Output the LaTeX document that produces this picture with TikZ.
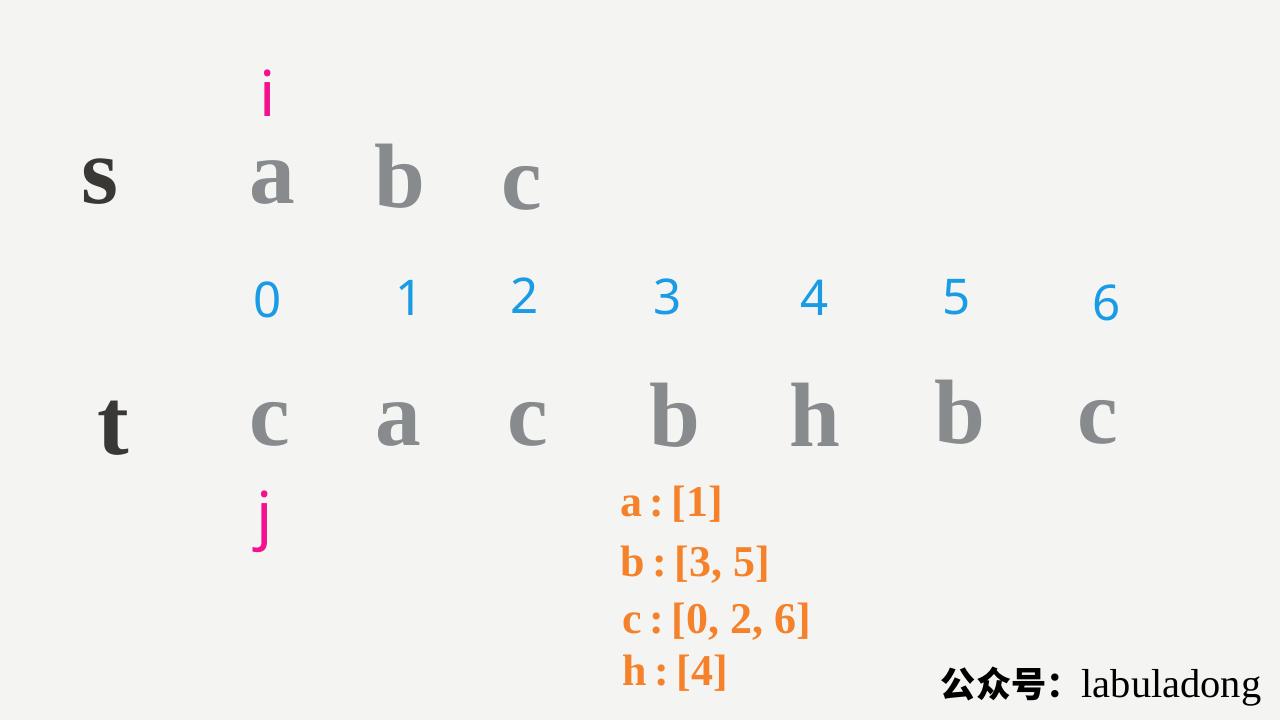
\documentclass[tikz,border=0pt]{standalone}
\usepackage{fontspec}
\setmainfont{Liberation Serif}
\newfontfamily\handfont{Noto Sans}
\newfontfamily\cjkfont{Noto Sans CJK SC}
\definecolor{paper}{HTML}{F4F4F2}
\definecolor{chargray}{HTML}{878B8D}
\definecolor{namedark}{HTML}{3A3835}
\definecolor{idxblue}{HTML}{1A9BE6}
\definecolor{ptrpink}{HTML}{F5108F}
\definecolor{listorange}{HTML}{F5822A}
\tikzset{
  strname/.style={anchor=base, text=namedark, font=\fontsize{27}{30}\selectfont\bfseries},
  strchar/.style={anchor=base, text=chargray, font=\fontsize{26}{30}\selectfont\bfseries},
  idx/.style={text=idxblue, font=\fontsize{14}{17}\selectfont\handfont},
  ptr/.style={inner sep=0pt, text=ptrpink, font=\fontsize{18}{21}\selectfont\handfont},
  entry/.style={anchor=base west, inner sep=0pt, text=listorange, font=\fontsize{12.5}{15}\selectfont\bfseries}
}
\begin{document}
\begin{tikzpicture}[x=0.01cm, y=-0.01cm]

  \fill[paper] (0,0) rectangle (1280,720);

  % string s
  \node[strname] (s) at (100,203) {s};
  \node[strchar] (s0) at (272,203) {a};
  \node[strchar] (s1) at (400,207) {b};
  \node[strchar] (s2) at (522,209) {c};
  \node[ptr] (i) at (268,93) {i};

  % indices of t
  \node[idx] (n0) at (268,300) {0};
  \node[idx] (n1) at (410,298) {1};
  \node[idx] (n2) at (525,296) {2};
  \node[idx] (n3) at (668,297) {3};
  \node[idx] (n4) at (815,298) {4};
  \node[idx] (n5) at (957,297) {5};
  \node[idx] (n6) at (1107,303) {6};

  % string t
  \node[strname] (t) at (113,454) {t};
  \node[strchar] (t0) at (270,445) {c};
  \node[strchar] (t1) at (398,445) {a};
  \node[strchar] (t2) at (528,445) {c};
  \node[strchar] (t3) at (675,446) {b};
  \node[strchar] (t4) at (815,446) {h};
  \node[strchar] (t5) at (960,443) {b};
  \node[strchar] (t6) at (1098,443) {c};
  \node[ptr] (j) at (265,522) {j};

  % index lists
  \node[entry] (la) at (620,516) {a\,:\,[1]};
  \node[entry] (lb) at (620,576) {b\,:\,[3, 5]};
  \node[entry] (lc) at (622,633) {c\,:\,[0, 2, 6]};
  \node[entry] (lh) at (622,685) {h\,:\,[4]};

  \node[anchor=base east, inner sep=0pt, font=\fontsize{11.5}{14}\selectfont] (mark) at (1262,697) {{\cjkfont\bfseries\fontsize{10}{12}\selectfont 公众号：}labuladong};

\end{tikzpicture}
\end{document}
